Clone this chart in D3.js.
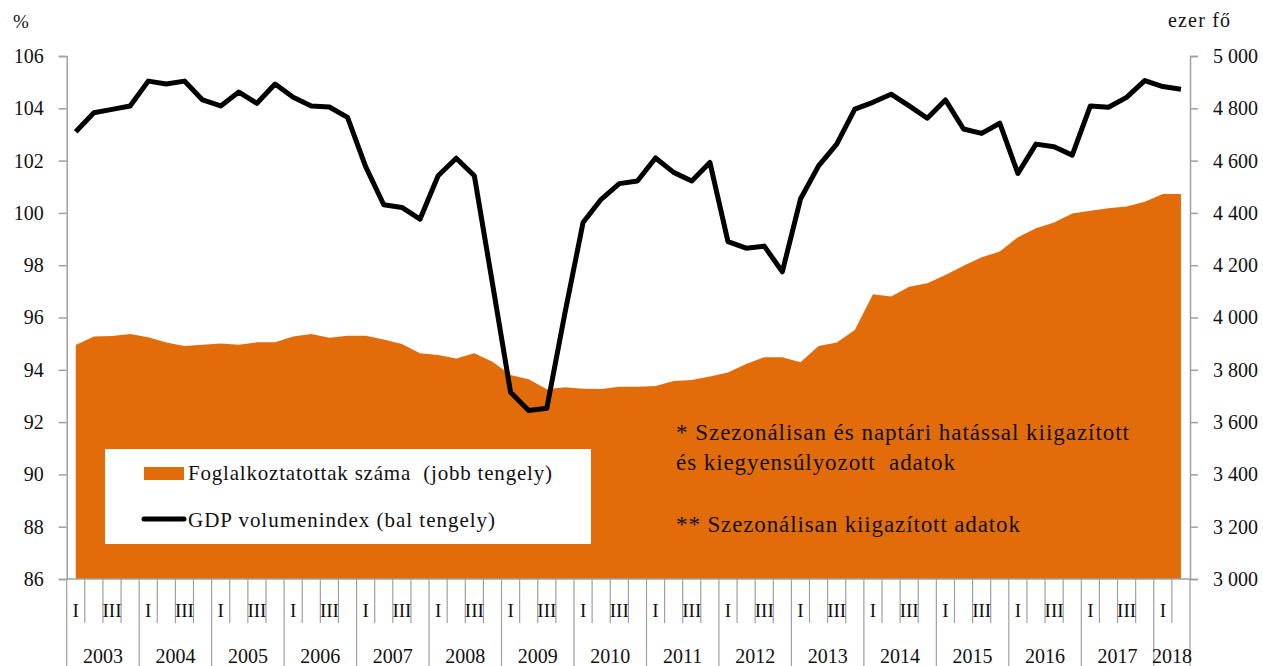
<!DOCTYPE html>
<html>
<head>
<meta charset="utf-8">
<script src="https://cdn.jsdelivr.net/npm/d3@7"></script>
<style>
  html, body { margin: 0; padding: 0; background: #fff; }
  svg text { font-family: "Palatino Linotype", "Book Antiqua", Palatino, "Liberation Serif", serif; fill: #111; }
</style>
</head>
<body>
<script>
// Adatok: 2003 I. negyedév – 2018 II. negyedév
const years = ["2003", "2004", "2005", "2006", "2007", "2008", "2009", "2010",
  "2011", "2012", "2013", "2014", "2015", "2016", "2017", "2018"];
const quarterLabels = ["I", "", "III", ""];

// GDP volumenindex (bal tengely, %)
const gdp = [
  103.1, 103.83, 103.96, 104.09, 105.04, 104.93, 105.04, 104.32,
  104.09, 104.62, 104.19, 104.93, 104.42, 104.09, 104.05, 103.65,
  101.77, 100.31, 100.21, 99.76, 101.42, 102.09, 101.42, 97.3,
  93.14, 92.44, 92.53, 96.17, 99.63, 100.52, 101.12, 101.22,
  102.1, 101.55, 101.22, 101.93, 98.9, 98.65, 98.73, 97.75,
  100.53, 101.8, 102.63, 103.97, 104.23, 104.54, 104.09, 103.62,
  104.32, 103.21, 103.04, 103.43, 101.51, 102.63, 102.53, 102.21,
  104.09, 104.04, 104.42, 105.06, 104.83, 104.73
];

// Foglalkoztatottak száma (jobb tengely, ezer fő)
const employed = [
  3895, 3927, 3929, 3937, 3924, 3904, 3891, 3896,
  3901, 3896, 3905, 3905, 3927, 3937, 3923, 3930,
  3930, 3916, 3899, 3863, 3857, 3843, 3863, 3831,
  3780, 3764, 3726, 3733, 3728, 3727, 3735, 3735,
  3738, 3757, 3761, 3774, 3790, 3822, 3848, 3848,
  3829, 3891, 3904, 3952, 4089, 4080, 4118, 4131,
  4163, 4198, 4230, 4252, 4307, 4341, 4363, 4398,
  4408, 4418, 4424, 4443, 4472, 4472
];

const leftTicks = [86, 88, 90, 92, 94, 96, 98, 100, 102, 104, 106];
const rightTicks = [3000, 3200, 3400, 3600, 3800, 4000, 4200, 4400, 4600, 4800, 5000];

const noteLines = [
  "* Szezonálisan és naptári hatással kiigazított",
  "és kiegyensúlyozott  adatok",
  "** Szezonálisan kiigazított adatok"
];

// Méretek
const width = 1263;
const height = 666;
const plot = { left: 66.7, right: 1190, top: 56, bottom: 579 };
const orange = "#e36c0a";
const axisColor = "#a0a0a0";

const svg = d3.select("body").append("svg")
  .attr("width", width)
  .attr("height", height);

const x = d3.scaleBand()
  .domain(d3.range(gdp.length))
  .range([plot.left, plot.right])
  .padding(0);
const cx = (i) => x(i) + x.bandwidth() / 2;

const yLeft = d3.scaleLinear().domain([86, 106]).range([plot.bottom, plot.top]);
const yRight = d3.scaleLinear().domain([3000, 5000]).range([plot.bottom, plot.top]);

// terület – foglalkoztatottak
const area = d3.area()
  .x((d, i) => cx(i))
  .y0(yRight(3000))
  .y1((d) => yRight(d));

svg.append("path")
  .datum(employed)
  .attr("d", area)
  .attr("fill", orange);

// jelmagyarázat doboz
const legend = svg.append("g");
legend.append("rect")
  .attr("x", 105).attr("y", 449)
  .attr("width", 486).attr("height", 95)
  .attr("fill", "#fff");
legend.append("rect")
  .attr("x", 144).attr("y", 467)
  .attr("width", 40).attr("height", 13)
  .attr("fill", orange);
legend.append("line")
  .attr("x1", 144).attr("x2", 184)
  .attr("y1", 519).attr("y2", 519)
  .attr("stroke", "#000").attr("stroke-width", 5)
  .attr("stroke-linecap", "round");
legend.append("text")
  .attr("x", 188).attr("y", 480)
  .style("font-size", "21px")
  .style("white-space", "pre")
  .attr("textLength", 364).attr("lengthAdjust", "spacing")
  .text("Foglalkoztatottak száma  (jobb tengely)");
legend.append("text")
  .attr("x", 188).attr("y", 527)
  .style("font-size", "21px")
  .attr("textLength", 307).attr("lengthAdjust", "spacing")
  .text("GDP volumenindex (bal tengely)");

// megjegyzések
const noteY = [440, 470, 532];
const noteW = [453, 279, 344];
svg.append("g").selectAll("text")
  .data(noteLines)
  .enter().append("text")
  .attr("x", 676)
  .attr("y", (d, i) => noteY[i])
  .attr("textLength", (d, i) => noteW[i])
  .attr("lengthAdjust", "spacing")
  .style("font-size", "23px")
  .style("white-space", "pre")
  .text((d) => d);

// GDP vonal
const line = d3.line()
  .x((d, i) => cx(i))
  .y((d) => yLeft(d));

svg.append("path")
  .datum(gdp)
  .attr("d", line)
  .attr("fill", "none")
  .attr("stroke", "#000")
  .attr("stroke-width", 5)
  .attr("stroke-linejoin", "round");

// tengelyek
const leftAxis = svg.append("g")
  .attr("transform", `translate(${plot.left},0)`)
  .call(d3.axisLeft(yLeft).tickValues(leftTicks).tickSize(8).tickPadding(15).tickFormat(d3.format("d")));

const rightAxis = svg.append("g")
  .attr("transform", `translate(${plot.right},0)`)
  .call(d3.axisRight(yRight).tickValues(rightTicks).tickSize(8).tickPadding(15)
    .tickFormat((d) => d3.format(",")(d).replace(",", "\u00a0")));

[leftAxis, rightAxis].forEach((a) => {
  a.selectAll(".domain").attr("stroke", axisColor).attr("stroke-width", 1.5);
  a.selectAll(".tick line").attr("stroke", axisColor).attr("stroke-width", 1.5);
  a.selectAll(".tick text")
    .attr("font-family", null)
    .style("font-size", "20px")
    .attr("fill", "#111");
  a.attr("font-family", null).attr("font-size", null);
});

// vízszintes tengely negyedévekkel és évekkel
const xAxis = svg.append("g");
xAxis.append("line")
  .attr("x1", plot.left).attr("x2", plot.right)
  .attr("y1", plot.bottom).attr("y2", plot.bottom)
  .attr("stroke", axisColor).attr("stroke-width", 1.5);

xAxis.selectAll(".qtick")
  .data(d3.range(gdp.length + 1))
  .enter().append("line")
  .attr("class", "qtick")
  .attr("x1", (i) => (i < gdp.length ? x(i) : plot.right))
  .attr("x2", (i) => (i < gdp.length ? x(i) : plot.right))
  .attr("y1", plot.bottom)
  .attr("y2", (i) => (i % 4 === 0 || i === gdp.length ? height : 623))
  .attr("stroke", axisColor)
  .attr("stroke-width", 1.2);

xAxis.selectAll(".qlabel")
  .data(d3.range(gdp.length).filter((i) => quarterLabels[i % 4] !== ""))
  .enter().append("text")
  .attr("class", "qlabel")
  .attr("x", (i) => cx(i))
  .attr("y", 617)
  .attr("text-anchor", "middle")
  .style("font-size", "19px")
  .text((i) => quarterLabels[i % 4]);

xAxis.selectAll(".ylabel")
  .data(years)
  .enter().append("text")
  .attr("class", "ylabel")
  .attr("x", (d, k) => {
    const start = x(k * 4);
    const endIdx = Math.min(k * 4 + 4, gdp.length);
    const end = endIdx < gdp.length ? x(endIdx) : plot.right;
    return (start + end) / 2;
  })
  .attr("y", 663)
  .attr("text-anchor", "middle")
  .style("font-size", "20px")
  .text((d) => d);

// tengelycímek
svg.append("text")
  .attr("x", 13).attr("y", 28)
  .style("font-size", "19px")
  .text("%");
svg.append("text")
  .attr("x", 1168).attr("y", 27)
  .style("font-size", "20px")
  .attr("textLength", 62).attr("lengthAdjust", "spacing")
  .text("ezer fő");
</script>
</body>
</html>
